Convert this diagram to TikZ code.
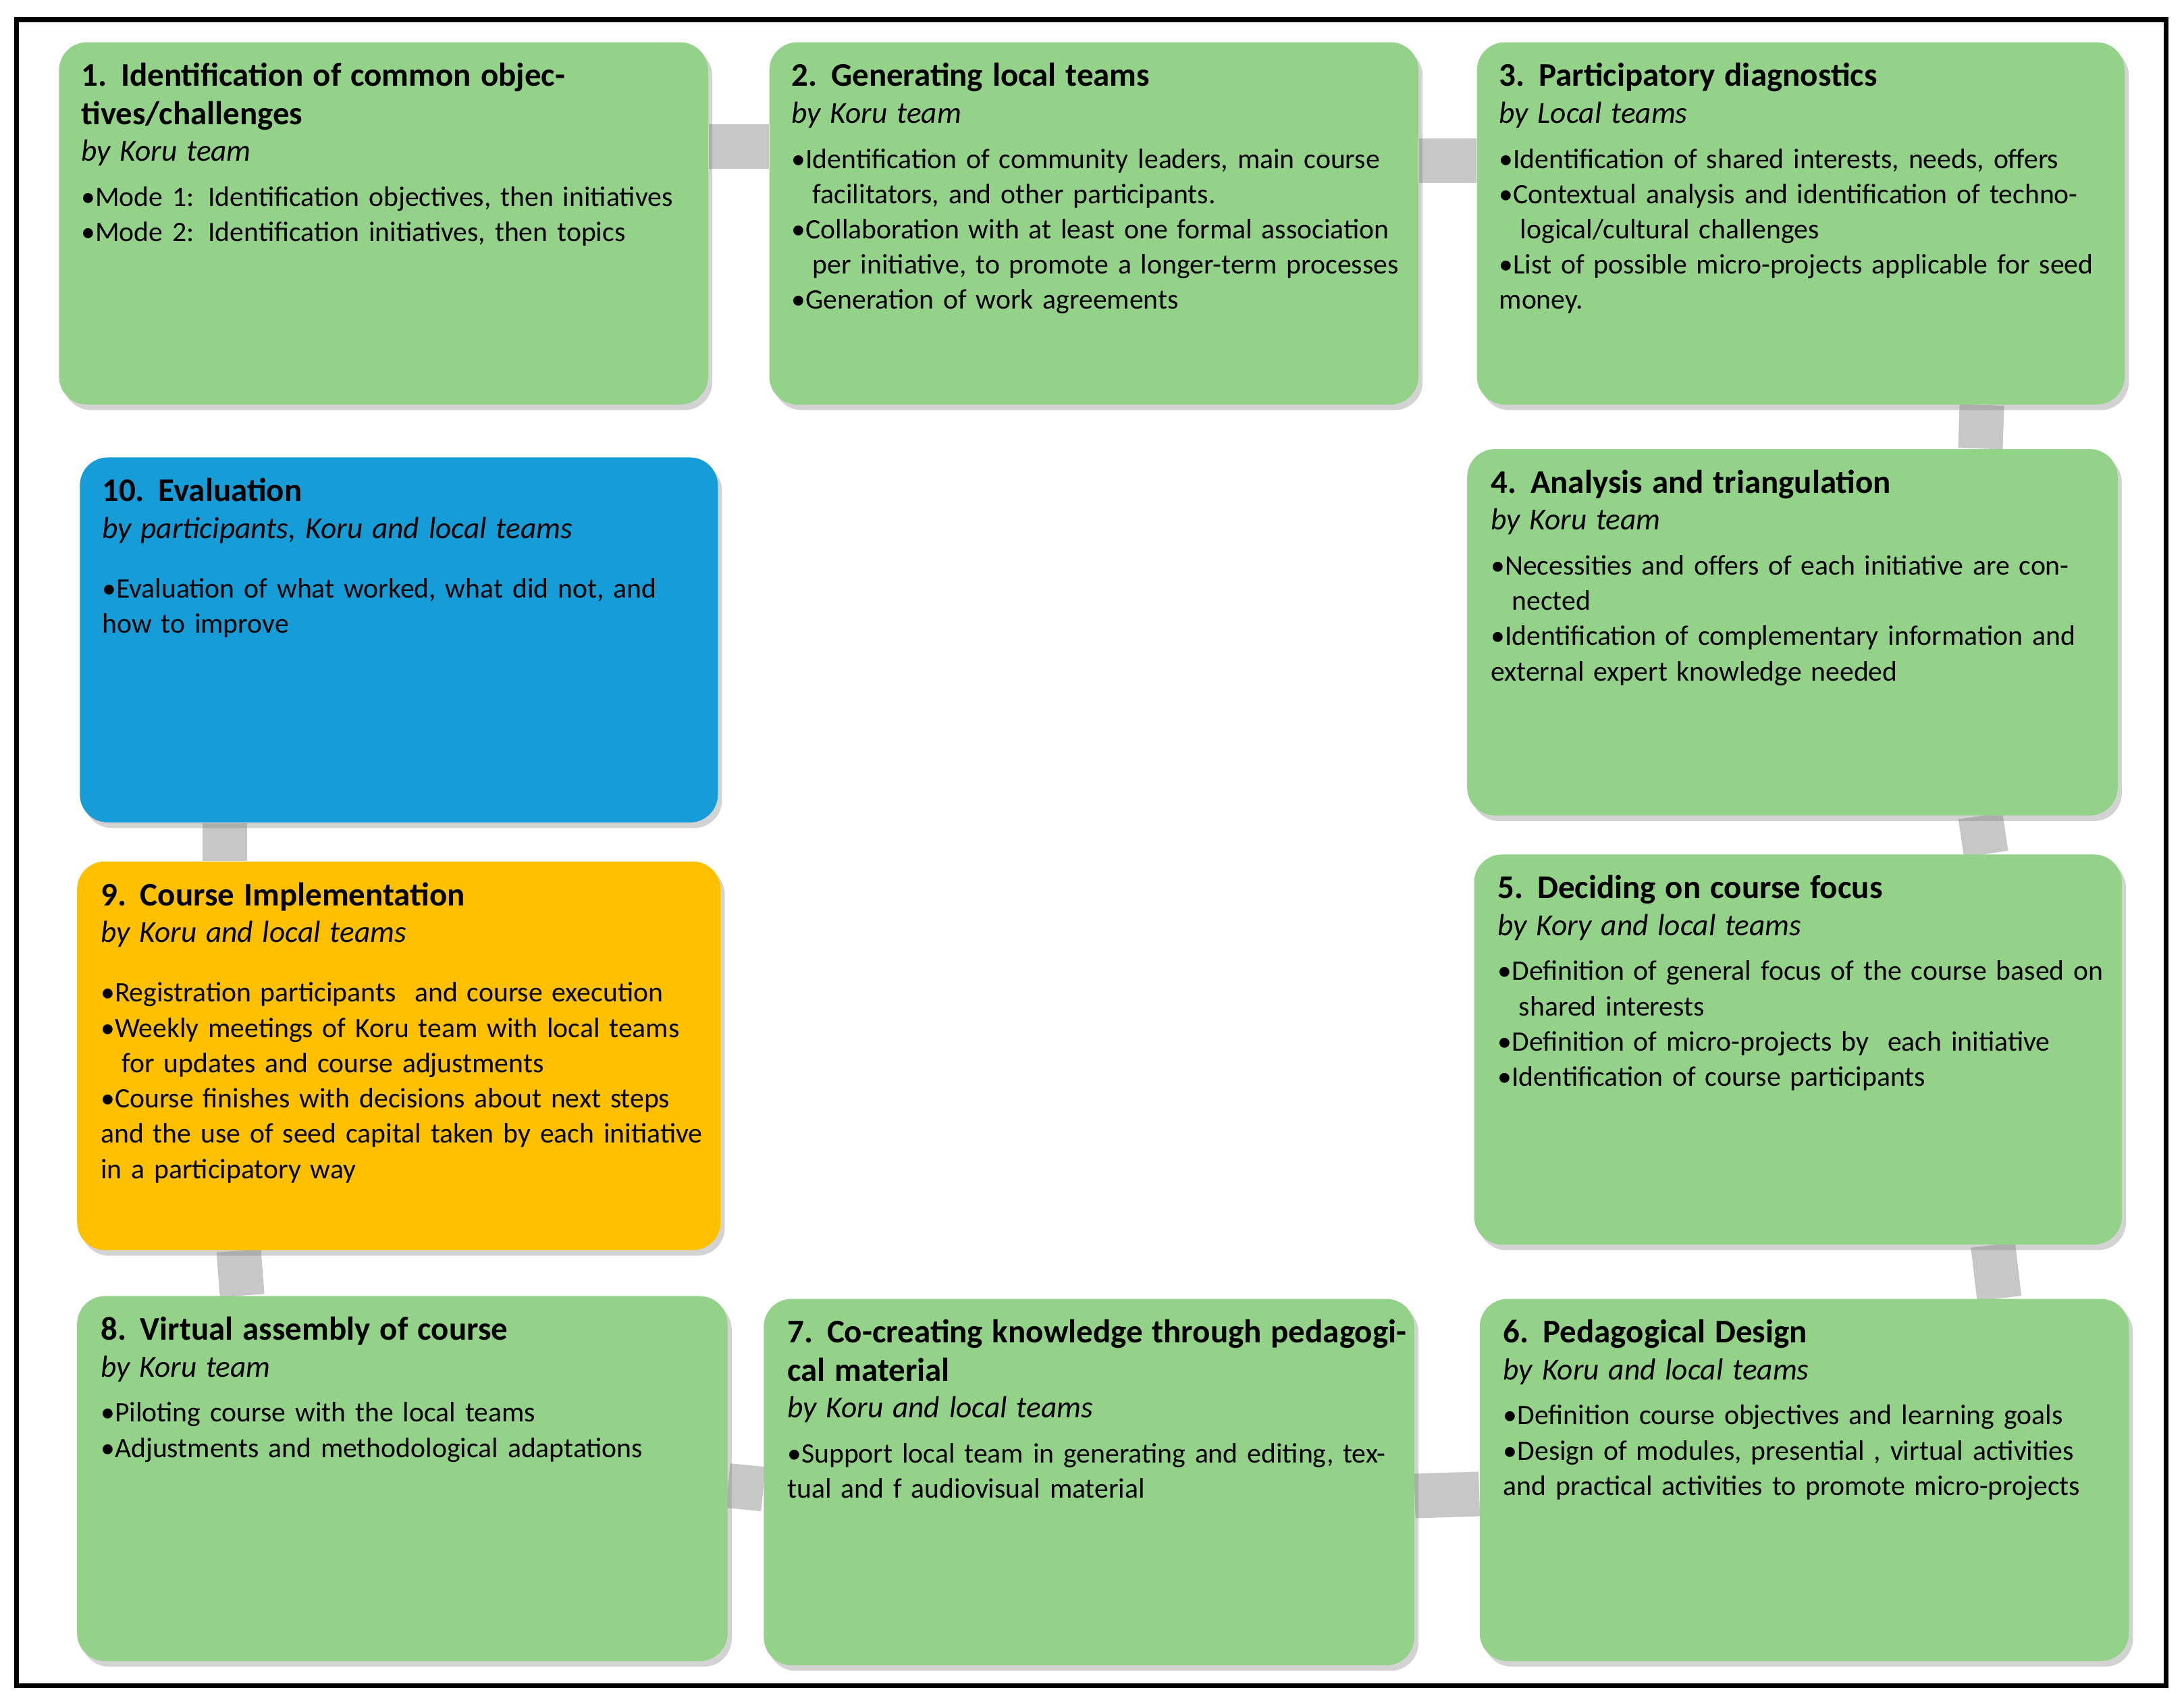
\documentclass[tikz,border=0pt]{standalone}
\usepackage{fontspec}
\setmainfont{Carlito}
\usetikzlibrary{shadows,backgrounds}
\definecolor{stepgreen}{RGB}{148,210,138}
\definecolor{stepblue}{RGB}{22,157,216}
\definecolor{steporange}{RGB}{255,192,0}
\newcommand\bul{\par\hangindent=0.75em\hangafter=1\noindent\textbullet}
\newcommand\steptitle[2]{{\fontsize{13.5}{15.5}\selectfont\bfseries #1\par}{\fontsize{12.5}{15}\selectfont\itshape #2\par}\vspace{4pt}}
\tikzset{
  stepbox/.style={draw=none,fill=stepgreen,rounded corners=4mm,anchor=north west,
    drop shadow={shadow xshift=0.6mm,shadow yshift=-0.8mm,opacity=.35}},
  steptext/.style={anchor=north west,align=left,inner sep=0pt,
    font=\fontsize{11.5}{14.4}\selectfont},
  link/.style={line width=6.4mm,draw=black!22}
}
\begin{document}
\begin{tikzpicture}[x=0.2mm,y=-0.2mm]
\useasboundingbox (0,0) rectangle (1568,1225);
\draw[line width=0.7mm] (12,14) rectangle (1555,1210);
% boxes
\node[stepbox,minimum width=93.2mm,minimum height=52mm] (s1) at (42,30) {};
\node[stepbox,minimum width=93.2mm,minimum height=52mm] (s2) at (552,30) {};
\node[stepbox,minimum width=93mm,minimum height=52mm] (s3) at (1060,30) {};
\node[stepbox,minimum width=93.4mm,minimum height=52.6mm] (s4) at (1053,322) {};
\node[stepbox,minimum width=93mm,minimum height=56mm] (s5) at (1058,613) {};
\node[stepbox,minimum width=93.2mm,minimum height=52mm] (s6) at (1062,932) {};
\node[stepbox,minimum width=93.4mm,minimum height=52.6mm] (s7) at (548,932) {};
\node[stepbox,minimum width=93.4mm,minimum height=52.4mm] (s8) at (55,930) {};
\node[stepbox,fill=steporange,minimum width=92.4mm,minimum height=55.8mm] (s9) at (55,618) {};
\node[stepbox,fill=stepblue,minimum width=91.6mm,minimum height=52.4mm] (s10) at (57,328) {};
% connectors
\begin{scope}[on background layer]
\draw[link] ([yshift=11mm]s1.east) -- ([yshift=11mm]s2.west);
\draw[link] ([yshift=9mm]s2.east) -- ([yshift=9mm]s3.west);
\draw[link] ([xshift=26mm]s3.south) -- ([xshift=27mm]s4.north);
\draw[link] ([xshift=27mm]s4.south) -- ([xshift=27mm]s5.north);
\draw[link] ([xshift=28mm]s5.south) -- ([xshift=28mm]s6.north);
\draw[link] ([yshift=-2mm]s6.west) -- ([yshift=-2mm]s7.west -| s7.east);
\draw[link] ([yshift=-1mm]s7.west) -- ([yshift=-1mm]s8.east);
\draw[link] ([xshift=-23mm]s8.north) -- ([xshift=-23mm]s9.south);
\draw[link] ([xshift=-25mm]s9.north) -- ([xshift=-25mm]s10.south);
\end{scope}
% texts
\node[steptext,text width=88mm] (t1) at ([shift={(3.2mm,-3mm)}]s1.north west) {%
\steptitle{1. Identification of common objectives/challenges}{by Koru team}
\bul Mode 1: Identification objectives, then initiatives
\bul Mode 2: Identification initiatives, then topics};
\node[steptext,text width=88mm] (t2) at ([shift={(3.2mm,-3mm)}]s2.north west) {%
\steptitle{2. Generating local teams}{by Koru team}
\bul Identification of community leaders, main course facilitators, and other participants.
\bul Collaboration with at least one formal association per initiative, to promote a longer-term processes
\bul Generation of work agreements};
\node[steptext,text width=88mm] (t3) at ([shift={(3.2mm,-3mm)}]s3.north west) {%
\steptitle{3. Participatory diagnostics}{by Local teams}
\bul Identification of shared interests, needs, offers
\bul Contextual analysis and identification of technological/cultural challenges
\bul List of possible micro-projects applicable for seed money.};
\node[steptext,text width=88mm] (t4) at ([shift={(3.4mm,-3mm)}]s4.north west) {%
\steptitle{4. Analysis and triangulation}{by Koru team}
\bul Necessities and offers of each initiative are connected
\bul Identification of complementary information and external expert knowledge needed};
\node[steptext,text width=88mm] (t5) at ([shift={(3.4mm,-3mm)}]s5.north west) {%
\steptitle{5. Deciding on course focus}{by Kory and local teams}
\bul Definition of general focus of the course based on shared interests
\bul Definition of micro-projects by\ \ each initiative
\bul Identification of course participants};
\node[steptext,text width=88mm] (t6) at ([shift={(3.4mm,-3mm)}]s6.north west) {%
\steptitle{6. Pedagogical Design}{by Koru and local teams}
\bul Definition course objectives and learning goals
\bul Design of modules, presential , virtual activities and practical activities to promote micro-projects};
\node[steptext,text width=90mm] (t7) at ([shift={(3.4mm,-3mm)}]s7.north west) {%
\steptitle{7. Co-creating knowledge through pedagogical material}{by Koru and local teams}
\bul Support local team in generating and editing, textual and f audiovisual material};
\node[steptext,text width=90mm] (t8) at ([shift={(3.4mm,-3mm)}]s8.north west) {%
\steptitle{8. Virtual assembly of course}{by Koru team}
\bul Piloting course with the local teams
\bul Adjustments and methodological adaptations};
\node[steptext,text width=88mm] (t9) at ([shift={(3.4mm,-3mm)}]s9.north west) {%
\steptitle{9. Course Implementation}{by Koru and local teams}\vspace{6pt}
\bul Registration participants\ \ and course execution
\bul Weekly meetings of Koru team with local teams for updates and course adjustments
\bul Course finishes with decisions about next steps and the use of seed capital taken by each initiative in a participatory way};
\node[steptext,text width=86mm] (t10) at ([shift={(3.2mm,-3mm)}]s10.north west) {%
\steptitle{10. Evaluation}{by participants, Koru and local teams}\vspace{6pt}
\bul Evaluation of what worked, what did not, and how to improve};
\end{tikzpicture}
\end{document}
